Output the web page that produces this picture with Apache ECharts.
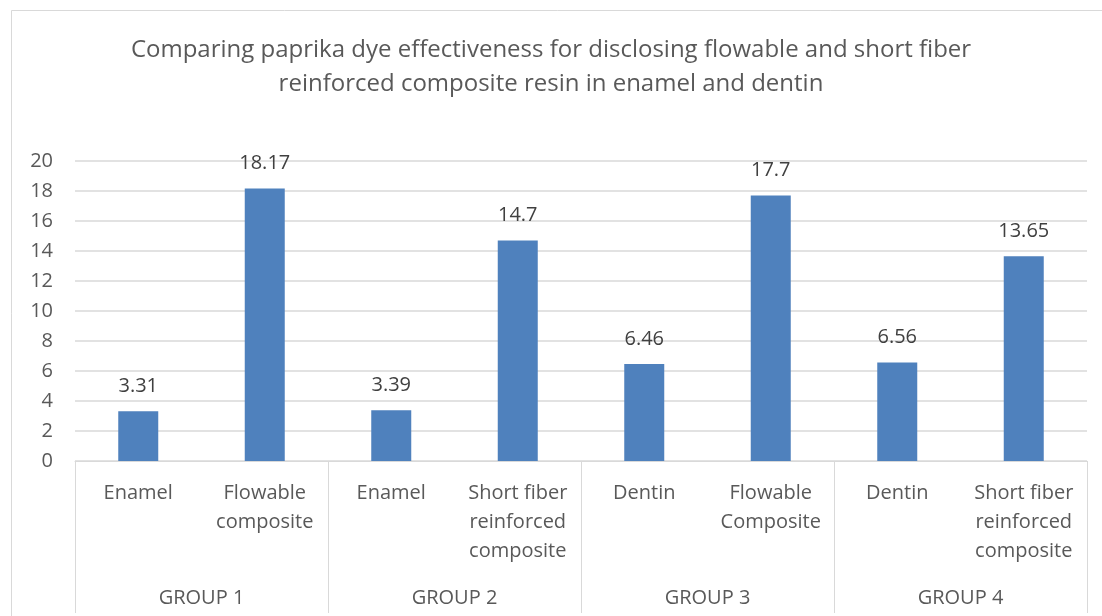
<!DOCTYPE html>
<html>
<head>
<meta charset="utf-8">
<script src="https://cdn.jsdelivr.net/npm/echarts@6/dist/echarts.min.js"></script>
<style>
  html, body { margin: 0; padding: 0; background: #fff; }
  #chart { width: 1102px; height: 616px; }
</style>
</head>
<body>
<div id="chart"></div>
<script>
const categories = ['Enamel', 'Flowable\ncomposite', 'Enamel', 'Short fiber\nreinforced\ncomposite',
  'Dentin', 'Flowable\nComposite', 'Dentin', 'Short fiber\nreinforced\ncomposite']
const groups = ['GROUP 1', 'GROUP 2', 'GROUP 3', 'GROUP 4']
const values = [3.31, 18.17, 3.39, 14.7, 6.46, 17.7, 6.56, 13.65]
const yTicks = { min: 0, max: 20, interval: 2 }

const textColor = '#595959'
const lineColor = '#d9d9d9'
const font = '"Open Sans", Lato, sans-serif'

const chart = echarts.init(document.getElementById('chart'))
chart.setOption({
  backgroundColor: '#ffffff',
  textStyle: { fontFamily: font },
  title: {
    text: 'Comparing paprika dye effectiveness for disclosing flowable and short fiber\nreinforced composite resin in enamel and dentin',
    left: 'center',
    top: 28,
    textStyle: {
      fontFamily: font,
      fontWeight: 'normal',
      fontSize: 24,
      lineHeight: 34,
      color: textColor
    }
  },
  graphic: [{
    type: 'rect',
    shape: { x: 11.5, y: 10.5, width: 1110, height: 620 },
    style: { fill: 'none', stroke: lineColor, lineWidth: 1 },
    silent: true
  }],
  grid: { left: 75, right: 15, top: 161, bottom: 155 },
  xAxis: [{
    type: 'category',
    data: categories,
    position: 'bottom',
    axisLine: { lineStyle: { color: lineColor } },
    axisTick: { show: false },
    axisLabel: {
      interval: 0,
      margin: 18,
      fontSize: 20,
      lineHeight: 29,
      color: textColor,
      verticalAlign: 'top'
    }
  }, {
    type: 'category',
    data: groups,
    position: 'bottom',
    axisLine: { show: false },
    axisTick: { show: true, length: 152, lineStyle: { color: lineColor } },
    axisLabel: {
      interval: 0,
      margin: 127,
      fontSize: 20,
      color: textColor,
      verticalAlign: 'top'
    }
  }],
  yAxis: {
    type: 'value',
    min: yTicks.min,
    max: yTicks.max,
    interval: yTicks.interval,
    axisLine: { show: false },
    axisTick: { show: false },
    axisLabel: { margin: 22, fontSize: 20, color: textColor },
    splitLine: { lineStyle: { color: lineColor, width: 1.5 } }
  },
  series: [{
    type: 'bar',
    data: values,
    xAxisIndex: 0,
    barWidth: 40,
    itemStyle: { color: '#4f81bd' },
    label: {
      show: true,
      position: 'top',
      distance: 15,
      fontSize: 20,
      color: '#404040',
      formatter: p => String(p.value)
    }
  }]
})
</script>
</body>
</html>
